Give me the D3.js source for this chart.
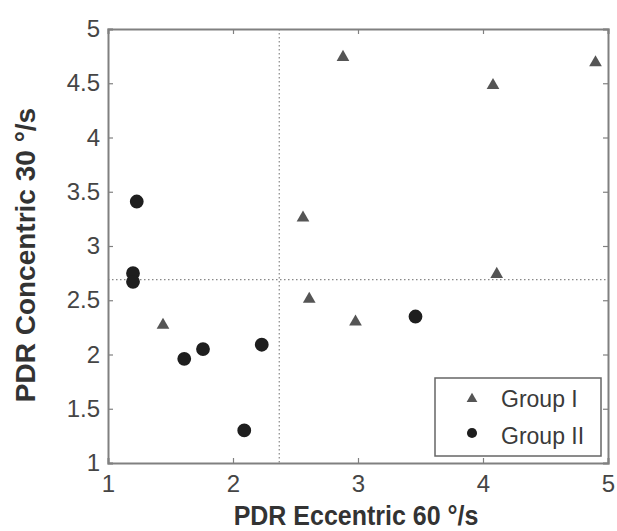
<!DOCTYPE html>
<html><head><meta charset="utf-8">
<script src="https://cdn.jsdelivr.net/npm/d3@7"></script>
<style>body{margin:0;background:#fff;} svg{display:block;}</style>
</head><body>
<svg id="chart" width="617" height="531"></svg>
<script>
const xTicks = [1, 2, 3, 4, 5];
const yTicks = [1, 1.5, 2, 2.5, 3, 3.5, 4, 4.5, 5];
const yTickLabels = ["1", "1.5", "2", "2.5", "3", "3.5", "4", "4.5", "5"];
const groupIx = [1.44, 2.56, 2.61, 2.98, 4.11, 2.88, 4.08, 4.90];
const groupIy = [2.27, 3.26, 2.51, 2.30, 2.74, 4.74, 4.48, 4.69];
const groupIIx = [1.23, 1.20, 1.20, 1.61, 1.76, 2.23, 2.09, 3.46];
const groupIIy = [3.41, 2.75, 2.67, 1.96, 2.05, 2.09, 1.30, 2.35];
const refX = 2.37;
const refY = 2.69;
const seriesNames = ["Group I", "Group II"];
const xLabel = "PDR Eccentric 60 °/s";
const yLabel = "PDR Concentric 30 °/s";

const svg = d3.select("#chart");
const L = 108, R = 608, T = 29, B = 463;
const x = d3.scaleLinear().domain([1, 5]).range([L, R]);
const y = d3.scaleLinear().domain([1, 5]).range([B, T]);
const axisColor = "#808080";
const font = "'Liberation Sans', Arial, sans-serif";

// reference dotted lines
svg.append("line").attr("x1", x(refX)).attr("x2", x(refX)).attr("y1", y(5)).attr("y2", y(1))
  .attr("stroke", "#888").attr("stroke-width", 1.2).attr("stroke-dasharray", "1.5,2.5");
svg.append("line").attr("x1", x(1)).attr("x2", x(5)).attr("y1", y(refY)).attr("y2", y(refY))
  .attr("stroke", "#888").attr("stroke-width", 1.2).attr("stroke-dasharray", "1.5,2.5");

// axes
const gx = svg.append("g").attr("transform", `translate(0,${B})`)
  .call(d3.axisBottom(x).tickValues(xTicks).tickSize(-5).tickPadding(12).tickFormat(d3.format("d")));
const gxt = svg.append("g").attr("transform", `translate(0,${T})`)
  .call(d3.axisTop(x).tickValues(xTicks).tickSize(-5).tickFormat(""));
const gy = svg.append("g").attr("transform", `translate(${L},0)`)
  .call(d3.axisLeft(y).tickValues(yTicks).tickSize(-5).tickPadding(8).tickFormat((d, i) => yTickLabels[i]));
const gyr = svg.append("g").attr("transform", `translate(${R},0)`)
  .call(d3.axisRight(y).tickValues(yTicks).tickSize(-5).tickFormat(""));
[gx, gxt, gy, gyr].forEach(g => {
  g.select(".domain").attr("stroke", axisColor).attr("stroke-width", 2);
  g.selectAll(".tick line").attr("stroke", axisColor).attr("stroke-width", 1.2);
  g.selectAll(".tick text").attr("fill", "#454545").attr("font-family", font).attr("font-size", 24);
});

// markers
const tri = d3.symbol().type(d3.symbolTriangle).size(70);
const circ = d3.symbol().type(d3.symbolCircle).size(150);
svg.append("g").selectAll("path").data(groupIx.map((v, i) => [v, groupIy[i]])).join("path")
  .attr("d", tri).attr("transform", d => `translate(${x(d[0])},${y(d[1])})`).attr("fill", "#555");
svg.append("g").selectAll("path").data(groupIIx.map((v, i) => [v, groupIIy[i]])).join("path")
  .attr("d", circ).attr("transform", d => `translate(${x(d[0])},${y(d[1])})`).attr("fill", "#1e1e1e");

// legend
const lg = svg.append("g");
lg.append("rect").attr("x", 435).attr("y", 378).attr("width", 166).attr("height", 78)
  .attr("fill", "#fff").attr("stroke", "#666").attr("stroke-width", 1.5);
lg.append("path").attr("d", d3.symbol().type(d3.symbolTriangle).size(50)).attr("transform", "translate(472,399)").attr("fill", "#555");
lg.append("path").attr("d", d3.symbol().type(d3.symbolCircle).size(80)).attr("transform", "translate(472,433)").attr("fill", "#1e1e1e");
lg.append("text").attr("x", 501).attr("y", 407).text(seriesNames[0]).attr("font-family", font).attr("font-size", 23).attr("fill", "#3a3a3a");
lg.append("text").attr("x", 501).attr("y", 444).text(seriesNames[1]).attr("font-family", font).attr("font-size", 23).attr("fill", "#3a3a3a");

// axis labels
svg.append("text").attr("transform", "translate(356,525) scale(1,1.12)").attr("text-anchor", "middle").text(xLabel)
  .attr("font-family", font).attr("font-weight", "bold").attr("font-size", 25).attr("fill", "#333");
svg.append("text").attr("transform", "translate(35,255) rotate(-90)").attr("text-anchor", "middle").text(yLabel)
  .attr("font-family", font).attr("font-weight", "bold").attr("font-size", 28).attr("fill", "#333");
</script>
</body></html>
